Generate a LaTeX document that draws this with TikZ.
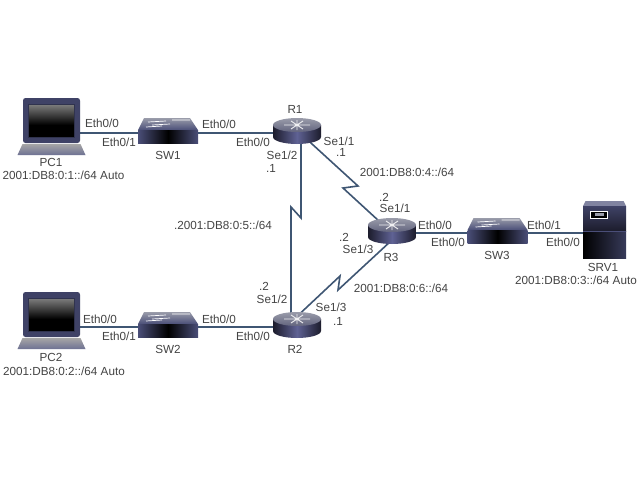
\documentclass[tikz,border=0pt]{standalone}
\usepackage{fontspec}
\setmainfont{Liberation Sans}
\usetikzlibrary{calc}
\pgfdeclarelayer{back}
\pgfsetlayers{back,main}
\definecolor{wire}{HTML}{3F5673}
\definecolor{lbl}{HTML}{444444}
\definecolor{frame}{HTML}{4A4E78}
\definecolor{rtop}{HTML}{9A9CAA}
\definecolor{rtopd}{HTML}{62647E}
\definecolor{rmid}{HTML}{5F6294}
\definecolor{rdark}{HTML}{1C1C2C}
\tikzset{
  px/.style={x=1pt,y=-1pt},
  dev/.style={inner sep=0pt,outer sep=0pt,minimum width=#1,minimum height=14pt},
  wirepath/.style={draw=wire,line width=1.6pt,line join=miter},
  txt/.style={font=\fontsize{11.7}{13}\selectfont,text=lbl,inner sep=0pt,anchor=center},
}
\newcommand{\routericon}[2]{%
 \begin{scope}[shift={(#1,#2)}]
  \shade[left color=rdark,right color=rdark,middle color=rmid]
    (-24,-8) -- (-24,4) arc[x radius=24,y radius=7,start angle=180,end angle=0] -- (24,-8) -- cycle;
  \shade[top color=rtop,bottom color=rtopd] (0,-8) ellipse[x radius=24,y radius=7];
  \draw[white!85!rtop,line width=.9pt] (-13,-8)--(13,-8) (0,-13)--(0,-3) (-6,-12)--(6,-4) (6,-12)--(-6,-4);
 \end{scope}}
\newcommand{\switchicon}[2]{%
 \begin{scope}[shift={(#1,#2)}]
  \shade[top color=rtop,bottom color=frame] (-30,-3) -- (-24,-15) -- (22,-15) -- (30,-3) -- cycle;
  \shade[left color=frame,right color=frame,middle color=black] (-30,-3) rectangle (30,10);
  \draw[white,line width=.7pt] (-20,-11)--(-2,-12) (4,-13)--(22,-13) (-16,-8)--(2,-9) (-22,-6)--(-6,-7);
 \end{scope}}
\newcommand{\laptopicon}[2]{%
 \begin{scope}[shift={(#1,#2)}]
  \fill[frame!85!black,rounded corners=2.5pt] (-28.5,-35) rectangle (28.5,10);
  \fill[black] (-23,-29) rectangle (23,4);
  \shade[top color=black!50,bottom color=black] (-23,-29) rectangle (23,-8);
  \draw[black!35!frame,line width=.7pt] (-23,-29) rectangle (23,4);
  \shade[top color=black!35,bottom color=frame!80!white] (-29,11) -- (29,11) -- (34,22) -- (-34,22) -- cycle;
 \end{scope}}
\newcommand{\servericon}[2]{%
 \begin{scope}[shift={(#1,#2)}]
  \shade[left color=black,right color=frame!75!black] (-21.5,-2) rectangle (21.5,25);
  \fill[frame!70!white] (-21.5,-27) -- (-19,-32) -- (19,-32) -- (21.5,-27) -- cycle;
  \shade[top color=frame!85!black,bottom color=rdark] (-21.5,-27) rectangle (21.5,-2);
  \draw[frame,line width=.6pt] (-21.5,-2) -- (21.5,-2);
  \draw[white,line width=.9pt,fill=black] (-14,-22) rectangle (3,-15);
  \fill[rtop] (-10,-20) rectangle (-1,-17);
 \end{scope}}
\begin{document}
\begin{tikzpicture}[px]
\useasboundingbox (0,0) rectangle (640,480);
% device anchors
\node[dev=57pt] (pc1) at (51.5,133) {};
\node[dev=60pt] (sw1) at (168,133) {};
\node[dev=48pt] (r1) at (297,133) {};
\node[dev=48pt] (r3) at (392,233) {};
\node[dev=60pt] (sw3) at (497.5,233) {};
\node[dev=43pt] (srv1) at (604.5,233) {};
\node[dev=57pt] (pc2) at (51.5,327) {};
\node[dev=60pt] (sw2) at (168,327) {};
\node[dev=48pt] (r2) at (297,327) {};
\coordinate (z1a) at (301,218);
\coordinate (z1b) at (291,207);
\coordinate (z2a) at (358,186);
\coordinate (z2b) at (343,188);
\coordinate (z3a) at (338,290);
\coordinate (z3b) at (340,276);
\begin{pgfonlayer}{back}
\fill[white] (0,0) rectangle (640,480);
\draw[wirepath] (pc1.east) -- (sw1.west);
\draw[wirepath] (sw1.east) -- (r1.west);
\draw[wirepath] (pc2.east) -- (sw2.west);
\draw[wirepath] (sw2.east) -- (r2.west);
\draw[wirepath] (r3.east) -- (sw3.west);
\draw[wirepath] (sw3.east) -- (srv1.west);
\draw[wirepath] ([xshift=4pt]r1.center) -- (z1a) -- (z1b) -- ([xshift=-6pt]r2.center);
\draw[wirepath] ([xshift=3pt]r1.center) -- (z2a) -- (z2b) -- (r3.center);
\draw[wirepath] ([yshift=-7pt]r3.center) -- (z3a) -- (z3b) -- ([xshift=-6pt,yshift=5pt]r2.center);
\end{pgfonlayer}
% icons
\laptopicon{51.5}{133}\laptopicon{51.5}{327}
\switchicon{168}{133}\switchicon{168}{327}\switchicon{497.5}{233}
\routericon{297}{133}\routericon{392}{233}\routericon{297}{327}
\servericon{604.5}{233}
% labels
\node[txt] (t1) at (51,162) {PC1};
\node[txt] (t2) at (63.5,175) {2001:DB8:0:1::/64 Auto};
\node[txt] (t3) at (102,123) {Eth0/0};
\node[txt] (t4) at (119,142) {Eth0/1};
\node[txt] (t5) at (168,155) {SW1};
\node[txt] (t6) at (219,124) {Eth0/0};
\node[txt] (t7) at (253,142) {Eth0/0};
\node[txt] (t8) at (295,109) {R1};
\node[txt] (t9) at (339,141) {Se1/1};
\node[txt] (t10) at (341,152) {.1};
\node[txt] (t11) at (282,155) {Se1/2};
\node[txt] (t12) at (271,168) {.1};
\node[txt] (t13) at (407,172) {2001:DB8:0:4::/64};
\node[txt] (t14) at (384,197) {.2};
\node[txt] (t15) at (395,208) {Se1/1};
\node[txt] (t16) at (223,225) {.2001:DB8:0:5::/64};
\node[txt] (t17) at (344,237) {.2};
\node[txt] (t18) at (358,249) {Se1/3};
\node[txt] (t19) at (391,257) {R3};
\node[txt] (t20) at (435,225) {Eth0/0};
\node[txt] (t21) at (448,242) {Eth0/0};
\node[txt] (t22) at (497,255) {SW3};
\node[txt] (t23) at (544,225) {Eth0/1};
\node[txt] (t24) at (563,242) {Eth0/0};
\node[txt] (t25) at (603,267) {SRV1};
\node[txt] (t26) at (576,280) {2001:DB8:0:3::/64 Auto};
\node[txt] (t27) at (401,288) {2001:DB8:0:6::/64};
\node[txt] (t28) at (331,307) {Se1/3};
\node[txt] (t29) at (338,321) {.1};
\node[txt] (t30) at (264,286) {.2};
\node[txt] (t31) at (272,299) {Se1/2};
\node[txt] (t32) at (253,336) {Eth0/0};
\node[txt] (t33) at (295,349) {R2};
\node[txt] (t34) at (219,319) {Eth0/0};
\node[txt] (t35) at (100,319) {Eth0/0};
\node[txt] (t36) at (119,336) {Eth0/1};
\node[txt] (t37) at (168,349) {SW2};
\node[txt] (t38) at (51,357) {PC2};
\node[txt] (t39) at (64,371) {2001:DB8:0:2::/64 Auto};
\end{tikzpicture}
\end{document}
